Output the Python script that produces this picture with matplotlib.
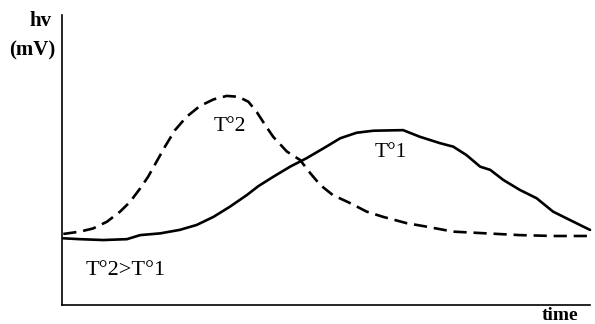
import numpy as np
import matplotlib.pyplot as plt

# T°2 curve (dashed), time 0..100, hv 0..100
t2_time = [0.25, 3.4, 5.9, 8.5, 11.0, 12.9, 14.8, 16.3, 17.9, 19.5, 21.4, 23.6,
           26.1, 28.7, 31.2, 33.4, 35.3, 36.9, 38.5, 40.0, 42.6, 45.1, 47.0,
           48.9, 51.3, 54.5, 57.7, 60.8, 65.3, 69.1, 74.1, 80.4, 86.7, 93.0, 100.6]
t2_hv = [24.5, 25.3, 26.4, 28.7, 32.2, 35.6, 40.2, 44.2, 49.4, 54.6, 60.3, 64.9,
         68.6, 70.9, 72.1, 71.8, 70.1, 66.5, 62.0, 58.0, 52.9, 50.0, 45.5,
         41.4, 37.9, 35.2, 32.2, 30.4, 28.2, 27.0, 25.3, 24.7, 24.1, 23.8, 23.8]

# T°1 curve (solid)
t1_time = [0.25, 3.4, 7.8, 12.3, 14.8, 18.6, 22.3, 25.5, 28.7, 31.8, 35.0, 37.2,
           40.0, 43.2, 46.3, 49.5, 52.7, 55.8, 59.0, 64.6, 67.8, 71.6, 74.1,
           76.6, 79.2, 81.1, 83.6, 86.7, 89.9, 93.0, 96.2, 100.0]
t1_hv = [23.0, 22.7, 22.4, 22.7, 24.1, 24.7, 25.9, 27.6, 30.4, 33.9, 37.9, 41.0,
         44.2, 47.7, 50.6, 54.0, 57.5, 59.4, 60.1, 60.3, 58.0, 55.8, 54.6,
         51.7, 47.7, 46.6, 43.1, 39.7, 36.8, 32.2, 29.3, 25.9]

labels = ["T°2", "T°1", "T°2>T°1"]

plt.rcParams['font.family'] = ['Liberation Serif', 'DejaVu Serif']

fig = plt.figure(figsize=(5.95, 3.24), dpi=100)
ax = fig.add_axes([62 / 595, 19 / 324, 528 / 595, 290 / 324])

ax.plot(t2_time, t2_hv, color='black', linewidth=1.9, linestyle='--',
        dashes=(5, 2.6), clip_on=False, dash_joinstyle='round')
ax.plot(t1_time, t1_hv, color='black', linewidth=1.9, clip_on=False,
        solid_joinstyle='round', solid_capstyle='round')

ax.text(31.8, 61.5, labels[0], fontsize=15.5, ha='center', va='center')
ax.text(62.3, 52.5, labels[1], fontsize=15.5, ha='center', va='center')
ax.text(12, 12, labels[2], fontsize=16, ha='center', va='center')

ax.set_xlim(0, 100)
ax.set_ylim(0, 100)
ax.spines['top'].set_visible(False)
ax.spines['right'].set_visible(False)
ax.spines['left'].set_linewidth(1.2)
ax.spines['bottom'].set_linewidth(1.2)
ax.set_xticks([])
ax.set_yticks([])

fig.text(41 / 595, 1 - 21 / 324, "hv", fontsize=15, fontweight='bold',
         ha='center', va='center')
fig.text(32 / 595, 1 - 50 / 324, "(mV)", fontsize=15, fontweight='bold',
         ha='center', va='center')
fig.text(560 / 595, 1 - 316 / 324, "time", fontsize=14, fontweight='bold',
         ha='center', va='center')

fig.savefig('out.png', dpi=100)
